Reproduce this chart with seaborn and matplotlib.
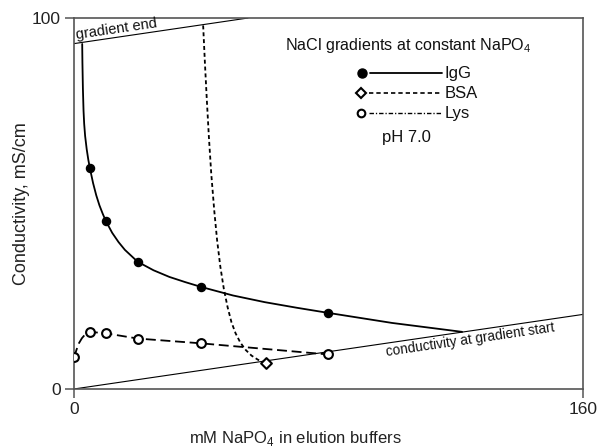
import numpy as np
import pandas as pd
import matplotlib
matplotlib.use("Agg")
import matplotlib.pyplot as plt
import seaborn as sns
from matplotlib.lines import Line2D
from matplotlib.legend_handler import HandlerBase

# ---------------- data ----------------
x_limits = [0, 160]
y_limits = [0, 100]
x_ticks = [0, 160]
y_ticks = [0, 100]

# measured points
igg_x = [5, 10, 20, 40, 80]
igg_y = [59.5, 45.3, 34.3, 27.5, 20.5]
bsa_x = [60.5]
bsa_y = [6.9]
lys_x = [0, 5, 10, 20, 40, 80]
lys_y = [8.5, 15.4, 15.0, 13.6, 12.3, 9.3]

# traced curves
igg_curve_x = [2.58, 2.65, 2.8, 3.0, 3.2, 3.5, 4.0, 4.5, 5, 6, 7, 8, 9, 10, 12, 14, 16,
               20, 25, 30, 35, 40, 50, 60, 70, 80, 100, 122]
igg_curve_y = [93, 88, 81, 75, 71.5, 68.2, 64.6, 61.8, 59.5, 55.5, 52.2, 49.5, 47.3,
               45.3, 42.1, 39.6, 37.5, 34.3, 32.0, 30.2, 28.8, 27.5, 25.2, 23.4, 21.9,
               20.5, 17.8, 15.4]
bsa_curve_x = [40.6, 41.15, 41.75, 42.4, 43.15, 44.1, 45.0, 46.0, 47.1, 48.3, 49.5,
               50.8, 52.3, 54.0, 55.8, 57.8, 59.5, 60.5]
bsa_curve_y = [98, 88, 78, 68, 58, 48, 40, 33, 27, 22, 18, 15, 12.5, 10.5, 9.0, 7.9,
               7.2, 6.9]
lys_curve_x = [0, 0.8, 1.6, 2.5, 3.5, 5, 10, 20, 40, 80]
lys_curve_y = [8.5, 10.6, 12.4, 13.7, 14.7, 15.4, 15.0, 13.6, 12.3, 9.3]

grad_end_x = [0, 54.7]
grad_end_y = [93.1, 100]
grad_start_x = [0, 160]
grad_start_y = [0, 20.1]

series_labels = ["IgG", "BSA", "Lys"]

# ---------------- style ----------------
sns.set_theme(style="ticks")
plt.rcParams["font.family"] = ["Liberation Sans", "DejaVu Sans"]
plt.rcParams["axes.edgecolor"] = "#555555"

fig = plt.figure(figsize=(6.06, 4.47), dpi=100)
ax = fig.add_axes([0.1221, 0.1298, 0.8399, 0.8299])

# gradient reference lines
sns.lineplot(x=grad_end_x, y=grad_end_y, sort=False, estimator=None, color="black",
             linewidth=0.8, ax=ax)
sns.lineplot(x=grad_start_x, y=grad_start_y, sort=False, estimator=None, color="black",
             linewidth=0.8, ax=ax)

# curves
sns.lineplot(x=igg_curve_x, y=igg_curve_y, sort=False, estimator=None, color="black",
             linewidth=1.3, ax=ax)
sns.lineplot(x=bsa_curve_x, y=bsa_curve_y, sort=False, estimator=None, color="black",
             linewidth=1.3, linestyle=(0, (2.2, 1.6)), ax=ax)
sns.lineplot(x=lys_curve_x, y=lys_curve_y, sort=False, estimator=None, color="black",
             linewidth=1.3, linestyle=(0, (5.5, 2.6)), ax=ax)

# markers
sns.scatterplot(x=igg_x, y=igg_y, marker="o", s=34, color="black", edgecolor="black",
                linewidth=1.0, zorder=4, ax=ax)
sns.scatterplot(x=bsa_x, y=bsa_y, marker="D", s=30, color="white", edgecolor="black",
                linewidth=1.5, zorder=4, ax=ax)
sns.scatterplot(x=lys_x, y=lys_y, marker="o", s=40, color="white", edgecolor="black",
                linewidth=1.5, zorder=4, ax=ax)

ax.set_xlim(*x_limits)
ax.set_ylim(*y_limits)
ax.set_xticks(x_ticks)
ax.set_yticks(y_ticks)
ax.tick_params(direction="out", length=6.5, width=1.1, color="#555555",
               labelsize=12.5, labelcolor="#222222", pad=3)
for sp in ax.spines.values():
    sp.set_color("#555555")
    sp.set_linewidth(1.2)

ax.set_xlabel("mM NaPO$_\\mathregular{4}$ in elution buffers", fontsize=12, color="#222222")
ax.set_ylabel("Conductivity, mS/cm", fontsize=13, color="#222222")
ax.xaxis.set_label_coords(0.434, -0.108)
ax.yaxis.set_label_coords(-0.0864, 0.5)

# line annotations
slope_angle = np.degrees(np.arctan2(grad_start_y[1] - grad_start_y[0],
                                    grad_start_x[1] - grad_start_x[0]))
ax.text(0.9, 94.3, "gradient end", fontsize=10.5, rotation=slope_angle,
        rotation_mode="anchor", transform_rotates_text=True,
        ha="left", va="baseline", color="#111111")
ax.text(124.5, 13.2, "conductivity at gradient start", fontsize=9.8,
        rotation=slope_angle, rotation_mode="anchor", transform_rotates_text=True,
        ha="center", va="center", color="#111111")

# legend
ax.text(0.4145, 0.927, "NaCl gradients at constant NaPO$_\\mathregular{4}$",
        transform=ax.transAxes, fontsize=11.6, ha="left", va="center", color="#111111")
ax.text(0.606, 0.677, "pH 7.0", transform=ax.transAxes, fontsize=12,
        ha="left", va="center", color="#111111")


class MarkerThenLine(HandlerBase):
    def create_artists(self, legend, orig, xdescent, ydescent, width, height,
                       fontsize, trans):
        y = height / 2.0 - ydescent
        x0 = -xdescent
        ms = orig.get_markersize()
        line = Line2D([x0 + ms / 2 + 6.0, x0 + width], [y, y])
        line.update_from(orig)
        line.set_marker("None")
        mk = Line2D([x0 + ms / 2 + 0.5], [y])
        mk.update_from(orig)
        mk.set_linestyle("None")
        line.set_transform(trans)
        mk.set_transform(trans)
        return [line, mk]


handles = [
    Line2D([], [], color="black", lw=1.3, ls="-", marker="o", ms=6.5,
           mfc="black", mec="black"),
    Line2D([], [], color="black", lw=1.2, ls=(0, (2.6, 1.8)), marker="D", ms=5.5,
           mfc="white", mec="black", mew=1.5),
    Line2D([], [], color="black", lw=1.0, ls=(0, (3.2, 1.4, 0.9, 1.4)), marker="o",
           ms=5.5, mfc="white", mec="black", mew=1.5),
]
leg = ax.legend(handles, series_labels, loc="upper left", bbox_to_anchor=(0.556, 0.8695),
                frameon=False, handlelength=5.1, handletextpad=0.15, labelspacing=0.3,
                borderaxespad=0, borderpad=0, fontsize=12,
                handler_map={Line2D: MarkerThenLine()})
for t in leg.get_texts():
    t.set_color("#111111")

fig.savefig("out.png", dpi=100)
